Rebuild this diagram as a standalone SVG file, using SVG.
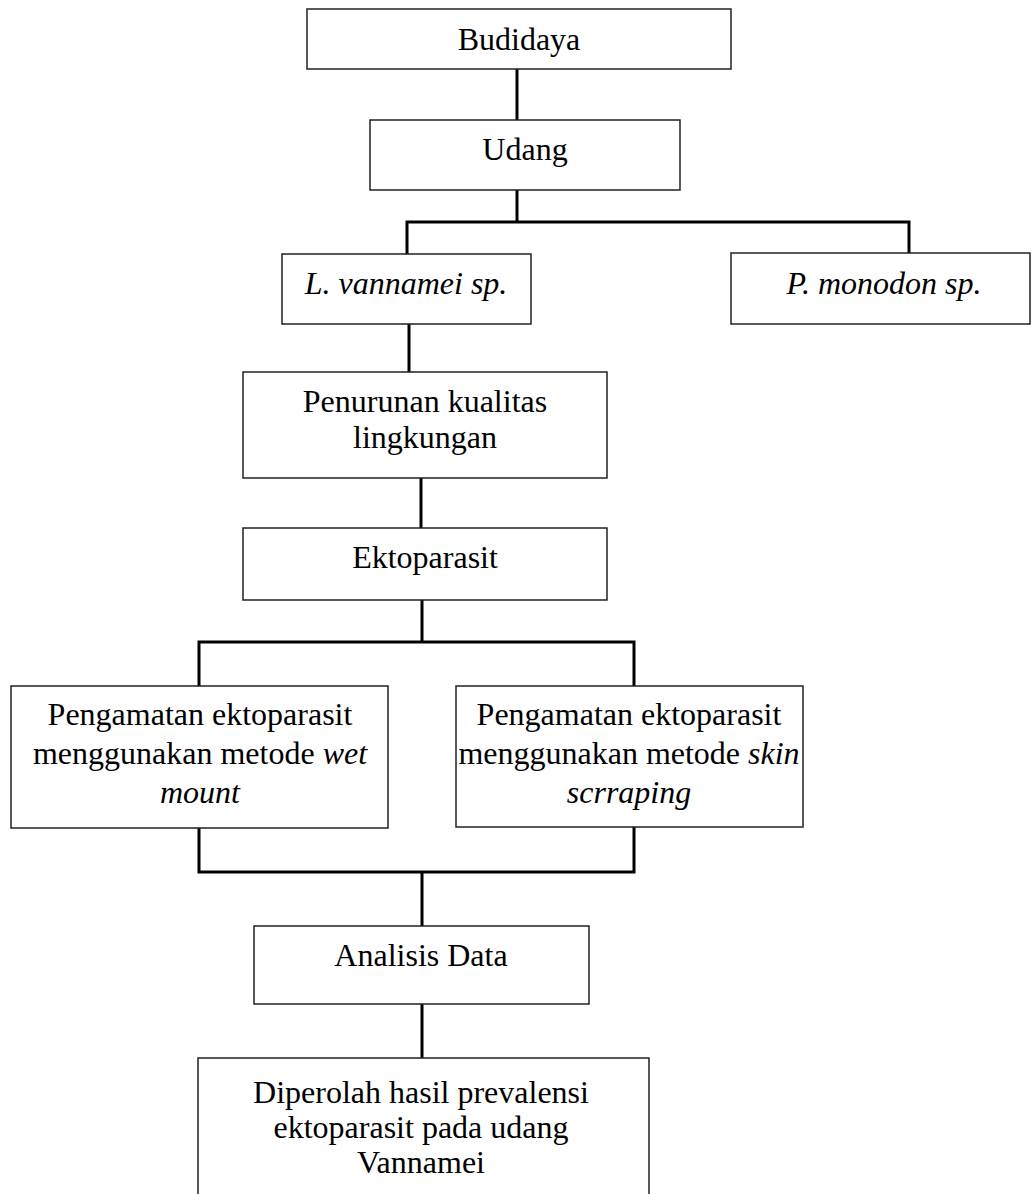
<svg xmlns="http://www.w3.org/2000/svg" width="1033" height="1194" viewBox="0 0 1033 1194">
<style>
.box{fill:#fff;stroke:#222;stroke-width:1.5}
.t{font-family:"Liberation Serif","Times New Roman",serif;font-size:32px;fill:#000;text-anchor:middle}
.i{font-style:italic}
.c{fill:none;stroke:#000;stroke-width:3;stroke-linejoin:miter;stroke-linecap:butt}
</style>
<rect width="1033" height="1194" fill="#fff"/>
<g id="connectors">
<path class="c" d="M517,69V120"/>
<path class="c" d="M517,190V222"/>
<path class="c" d="M407,254V222H909V253"/>
<path class="c" d="M409,324V372"/>
<path class="c" d="M421,478V528"/>
<path class="c" d="M422,600V642"/>
<path class="c" d="M199,686V642H634V686"/>
<path class="c" d="M199,828V872H634V827"/>
<path class="c" d="M422,872V926"/>
<path class="c" d="M422,1004V1058"/>
</g>
<g id="budidaya"><rect class="box" x="307" y="9" width="424" height="60"/><text class="t" x="519" y="50">Budidaya</text></g>
<g id="udang"><rect class="box" x="370" y="120" width="310" height="70"/><text class="t" x="525" y="160">Udang</text></g>
<g id="vannamei"><rect class="box" x="282" y="254" width="249" height="70"/><text class="t i" x="406" y="294">L. vannamei sp.</text></g>
<g id="monodon"><rect class="box" x="731" y="253" width="299" height="71"/><text class="t i" x="884" y="294">P. monodon sp.</text></g>
<g id="penurunan"><rect class="box" x="243" y="372" width="364" height="106"/><text class="t" x="425" y="412">Penurunan kualitas</text><text class="t" x="425" y="448">lingkungan</text></g>
<g id="ektoparasit"><rect class="box" x="243" y="528" width="364" height="72"/><text class="t" x="425" y="568">Ektoparasit</text></g>
<g id="wetmount"><rect class="box" x="11" y="686" width="377" height="142"/><text class="t" x="200" y="725">Pengamatan ektoparasit</text><text class="t" x="200" y="764">menggunakan metode <tspan class="i">wet</tspan></text><text class="t i" x="200" y="803">mount</text></g>
<g id="skinscraping"><rect class="box" x="456" y="686" width="347" height="141"/><text class="t" x="629" y="725">Pengamatan ektoparasit</text><text class="t" x="629" y="764">menggunakan metode <tspan class="i">skin</tspan></text><text class="t i" x="629" y="803">scrraping</text></g>
<g id="analisis"><rect class="box" x="254" y="926" width="335" height="78"/><text class="t" x="421" y="966">Analisis Data</text></g>
<g id="hasil"><rect class="box" x="198" y="1058" width="451" height="160"/><text class="t" x="421" y="1103">Diperolah hasil prevalensi</text><text class="t" x="421" y="1138">ektoparasit pada udang</text><text class="t" x="421" y="1173">Vannamei</text></g>
</svg>
